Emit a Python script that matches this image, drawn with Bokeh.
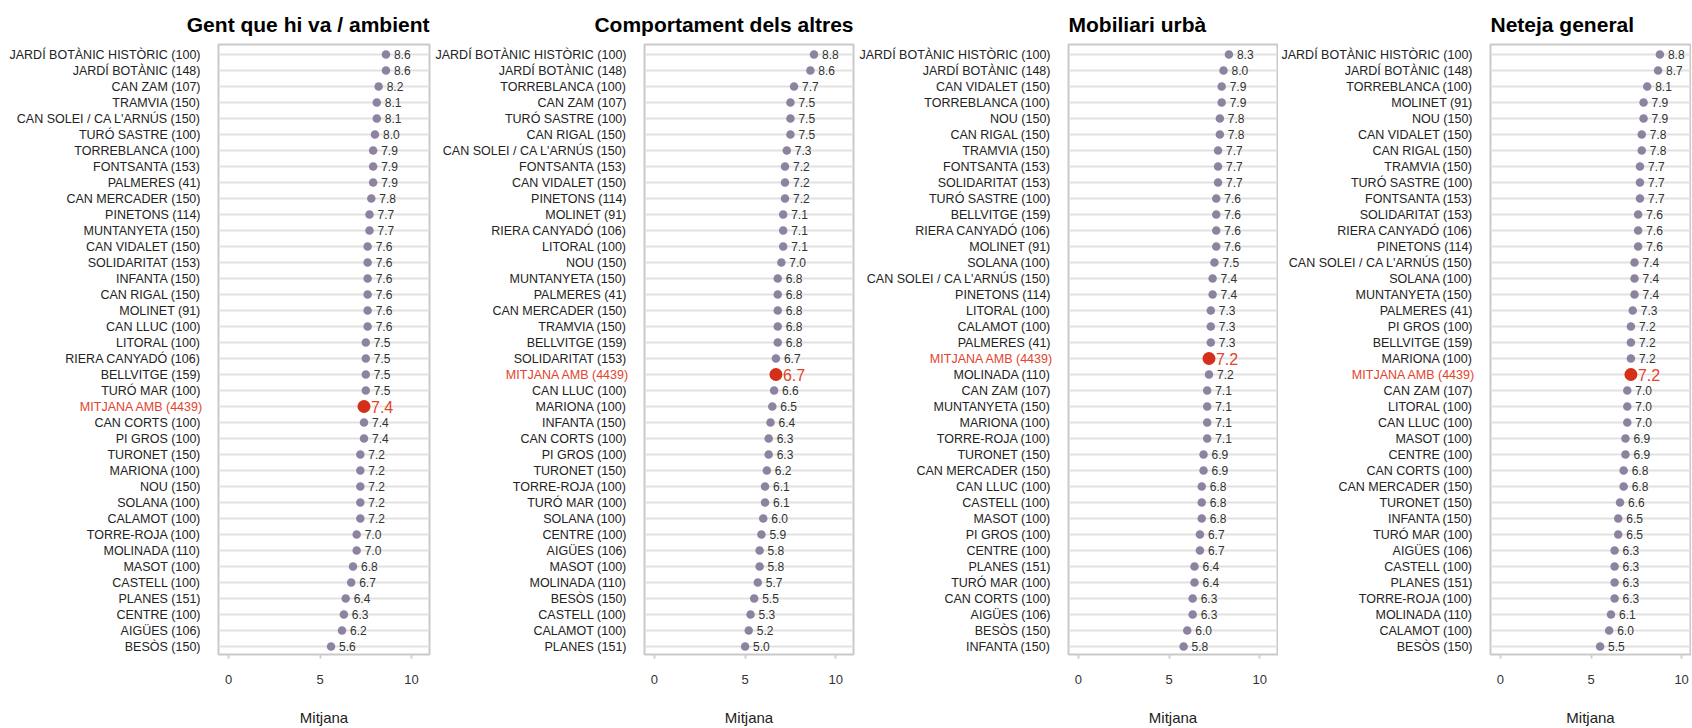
from bokeh.plotting import figure
from bokeh.models import ColumnDataSource, LabelSet, Range1d, FixedTicker, Grid, LinearAxis
from bokeh.core.properties import value
from bokeh.layouts import row
from bokeh.embed import file_html
from bokeh.resources import INLINE

titles = ["Gent que hi va / ambient", "Comportament dels altres", "Mobiliari urbà", "Neteja general"]

names1 = ["JARDÍ BOTÀNIC HISTÒRIC (100)", "JARDÍ BOTÀNIC (148)", "CAN ZAM (107)", "TRAMVIA (150)",
          "CAN SOLEI / CA L'ARNÚS (150)", "TURÓ SASTRE (100)", "TORREBLANCA (100)", "FONTSANTA (153)",
          "PALMERES (41)", "CAN MERCADER (150)", "PINETONS (114)", "MUNTANYETA (150)", "CAN VIDALET (150)",
          "SOLIDARITAT (153)", "INFANTA (150)", "CAN RIGAL (150)", "MOLINET (91)", "CAN LLUC (100)",
          "LITORAL (100)", "RIERA CANYADÓ (106)", "BELLVITGE (159)", "TURÓ MAR (100)", "MITJANA AMB (4439)",
          "CAN CORTS (100)", "PI GROS (100)", "TURONET (150)", "MARIONA (100)", "NOU (150)", "SOLANA (100)",
          "CALAMOT (100)", "TORRE-ROJA (100)", "MOLINADA (110)", "MASOT (100)", "CASTELL (100)",
          "PLANES (151)", "CENTRE (100)", "AIGÜES (106)", "BESÒS (150)"]
vals1 = [8.6, 8.6, 8.2, 8.1, 8.1, 8.0, 7.9, 7.9, 7.9, 7.8, 7.7, 7.7, 7.6, 7.6, 7.6, 7.6, 7.6, 7.6, 7.5,
         7.5, 7.5, 7.5, 7.4, 7.4, 7.4, 7.2, 7.2, 7.2, 7.2, 7.2, 7.0, 7.0, 6.8, 6.7, 6.4, 6.3, 6.2, 5.6]

names2 = ["JARDÍ BOTÀNIC HISTÒRIC (100)", "JARDÍ BOTÀNIC (148)", "TORREBLANCA (100)", "CAN ZAM (107)",
          "TURÓ SASTRE (100)", "CAN RIGAL (150)", "CAN SOLEI / CA L'ARNÚS (150)", "FONTSANTA (153)",
          "CAN VIDALET (150)", "PINETONS (114)", "MOLINET (91)", "RIERA CANYADÓ (106)", "LITORAL (100)",
          "NOU (150)", "MUNTANYETA (150)", "PALMERES (41)", "CAN MERCADER (150)", "TRAMVIA (150)",
          "BELLVITGE (159)", "SOLIDARITAT (153)", "MITJANA AMB (4439)", "CAN LLUC (100)", "MARIONA (100)",
          "INFANTA (150)", "CAN CORTS (100)", "PI GROS (100)", "TURONET (150)", "TORRE-ROJA (100)",
          "TURÓ MAR (100)", "SOLANA (100)", "CENTRE (100)", "AIGÜES (106)", "MASOT (100)", "MOLINADA (110)",
          "BESÒS (150)", "CASTELL (100)", "CALAMOT (100)", "PLANES (151)"]
vals2 = [8.8, 8.6, 7.7, 7.5, 7.5, 7.5, 7.3, 7.2, 7.2, 7.2, 7.1, 7.1, 7.1, 7.0, 6.8, 6.8, 6.8, 6.8, 6.8,
         6.7, 6.7, 6.6, 6.5, 6.4, 6.3, 6.3, 6.2, 6.1, 6.1, 6.0, 5.9, 5.8, 5.8, 5.7, 5.5, 5.3, 5.2, 5.0]

names3 = ["JARDÍ BOTÀNIC HISTÒRIC (100)", "JARDÍ BOTÀNIC (148)", "CAN VIDALET (150)", "TORREBLANCA (100)",
          "NOU (150)", "CAN RIGAL (150)", "TRAMVIA (150)", "FONTSANTA (153)", "SOLIDARITAT (153)",
          "TURÓ SASTRE (100)", "BELLVITGE (159)", "RIERA CANYADÓ (106)", "MOLINET (91)", "SOLANA (100)",
          "CAN SOLEI / CA L'ARNÚS (150)", "PINETONS (114)", "LITORAL (100)", "CALAMOT (100)", "PALMERES (41)",
          "MITJANA AMB (4439)", "MOLINADA (110)", "CAN ZAM (107)", "MUNTANYETA (150)", "MARIONA (100)",
          "TORRE-ROJA (100)", "TURONET (150)", "CAN MERCADER (150)", "CAN LLUC (100)", "CASTELL (100)",
          "MASOT (100)", "PI GROS (100)", "CENTRE (100)", "PLANES (151)", "TURÓ MAR (100)", "CAN CORTS (100)",
          "AIGÜES (106)", "BESÒS (150)", "INFANTA (150)"]
vals3 = [8.3, 8.0, 7.9, 7.9, 7.8, 7.8, 7.7, 7.7, 7.7, 7.6, 7.6, 7.6, 7.6, 7.5, 7.4, 7.4, 7.3, 7.3, 7.3,
         7.2, 7.2, 7.1, 7.1, 7.1, 7.1, 6.9, 6.9, 6.8, 6.8, 6.8, 6.7, 6.7, 6.4, 6.4, 6.3, 6.3, 6.0, 5.8]

names4 = ["JARDÍ BOTÀNIC HISTÒRIC (100)", "JARDÍ BOTÀNIC (148)", "TORREBLANCA (100)", "MOLINET (91)",
          "NOU (150)", "CAN VIDALET (150)", "CAN RIGAL (150)", "TRAMVIA (150)", "TURÓ SASTRE (100)",
          "FONTSANTA (153)", "SOLIDARITAT (153)", "RIERA CANYADÓ (106)", "PINETONS (114)",
          "CAN SOLEI / CA L'ARNÚS (150)", "SOLANA (100)", "MUNTANYETA (150)", "PALMERES (41)", "PI GROS (100)",
          "BELLVITGE (159)", "MARIONA (100)", "MITJANA AMB (4439)", "CAN ZAM (107)", "LITORAL (100)",
          "CAN LLUC (100)", "MASOT (100)", "CENTRE (100)", "CAN CORTS (100)", "CAN MERCADER (150)",
          "TURONET (150)", "INFANTA (150)", "TURÓ MAR (100)", "AIGÜES (106)", "CASTELL (100)", "PLANES (151)",
          "TORRE-ROJA (100)", "MOLINADA (110)", "CALAMOT (100)", "BESÒS (150)"]
vals4 = [8.8, 8.7, 8.1, 7.9, 7.9, 7.8, 7.8, 7.7, 7.7, 7.7, 7.6, 7.6, 7.6, 7.4, 7.4, 7.4, 7.3, 7.2, 7.2,
         7.2, 7.2, 7.0, 7.0, 7.0, 6.9, 6.9, 6.8, 6.8, 6.6, 6.5, 6.5, 6.3, 6.3, 6.3, 6.3, 6.1, 6.0, 5.5]

x_ticks = [0, 5, 10]
highlight = "MITJANA AMB (4439)"

FONT = "Liberation Sans"
DOT = "#8d83a1"
RED_DOT = "#d42f18"
RED_TXT = "#e2432c"
LABEL_SIZE = 12.5
# width of the highlighted label in Liberation Sans (Arial metrics), in em
HI_EM = 9.891


def y_axis(ticks, overrides, color, standoff):
    a = LinearAxis(ticker=FixedTicker(ticks=ticks), major_label_overrides=overrides)
    a.axis_line_color = None
    a.major_tick_line_color = None
    a.major_tick_in = 0
    a.major_tick_out = 0
    a.minor_tick_line_color = None
    a.major_label_standoff = standoff
    a.major_label_text_font = FONT
    a.major_label_text_font_size = "%spx" % LABEL_SIZE
    a.major_label_text_color = color
    return a


def panel(title, names, vals, width, align, x_end, border_left, border_right):
    n = len(names)
    ypos = [n - 1 - i for i in range(n)]
    norm = [i for i in range(n) if names[i] != highlight]
    hi = [i for i in range(n) if names[i] == highlight]

    src_n = ColumnDataSource(dict(val=[vals[i] for i in norm], y=[ypos[i] for i in norm],
                                  txt=["%.1f" % vals[i] for i in norm]))
    src_h = ColumnDataSource(dict(val=[vals[i] for i in hi], y=[ypos[i] for i in hi],
                                  txt=["%.1f" % vals[i] for i in hi]))

    p = figure(width=width, height=728, x_range=Range1d(-0.55, x_end), y_range=Range1d(-0.5, n - 0.375),
               output_backend="svg", toolbar_location=None, y_axis_location=None,
               min_border_left=border_left, min_border_right=border_right,
               min_border_top=44, min_border_bottom=74)
    p.title.text = title
    p.title.align = align
    p.title.vertical_align = "bottom"
    p.title.text_font = FONT
    p.title.text_font_size = "21px"
    p.title.text_font_style = "bold"
    p.title.text_color = "#000000"
    p.title.standoff = 18

    p.outline_line_color = "#c9c9c9"
    p.outline_line_width = 2
    p.xgrid.visible = False
    p.add_layout(Grid(dimension=1, ticker=FixedTicker(ticks=ypos), grid_line_color="#e1e1e1",
                      grid_line_width=2))

    # bottom value axis
    ax = p.below[0]
    ax.ticker = FixedTicker(ticks=x_ticks)
    ax.axis_line_color = None
    ax.major_tick_in = 0
    ax.major_tick_out = 4
    ax.major_tick_line_color = "#d0d0d0"
    ax.major_tick_line_width = 2
    ax.minor_tick_line_color = None
    ax.major_label_standoff = 16
    ax.major_label_text_font = FONT
    ax.major_label_text_font_size = "13px"
    ax.major_label_text_color = "#333333"
    ax.axis_label = "Mitjana"
    ax.axis_label_standoff = 22
    ax.axis_label_text_font = FONT
    ax.axis_label_text_font_size = "15px"
    ax.axis_label_text_font_style = "normal"
    ax.axis_label_text_color = "#222222"

    # inner axis: highlighted (red) label only; outer axis: all other labels, pulled back
    # over the inner axis so that every label ends 15px left of the frame
    red_ax = y_axis(ypos, {ypos[i]: (names[i] if names[i] == highlight else "") for i in range(n)},
                    RED_TXT, 15)
    blk_ax = y_axis(ypos, {ypos[i]: ("" if names[i] == highlight else names[i]) for i in range(n)},
                    "#222222", -int(round(HI_EM * LABEL_SIZE)))
    p.add_layout(red_ax, "left")
    p.add_layout(blk_ax, "left")

    p.scatter(x="val", y="y", source=src_n, size=8.5, fill_color=DOT, line_color=None)
    p.scatter(x="val", y="y", source=src_h, size=13, fill_color=RED_DOT, line_color=None)

    p.add_layout(LabelSet(x="val", y="y", text="txt", source=src_n, x_offset=8, text_baseline="middle",
                          text_font=value(FONT), text_font_size="12px", text_color="#333333"))
    p.add_layout(LabelSet(x="val", y="y", text="txt", source=src_h, x_offset=7, text_baseline="middle",
                          text_font=value(FONT), text_font_size="16px", text_color=RED_TXT))
    return p


p1 = panel(titles[0], names1, vals1, 432, "right", 10.98, 218, 3)
p2 = panel(titles[1], names2, vals2, 424, "right", 10.98, 210, 3)
p3 = panel(titles[2], names3, vals3, 422, "left", 10.98, 210, 1)
p4 = panel(titles[3], names4, vals4, 413, "left", 10.49, 210, 1)

layout = row(p1, p2, p3, p4)
open("out.html", "w").write(file_html(layout, INLINE))
